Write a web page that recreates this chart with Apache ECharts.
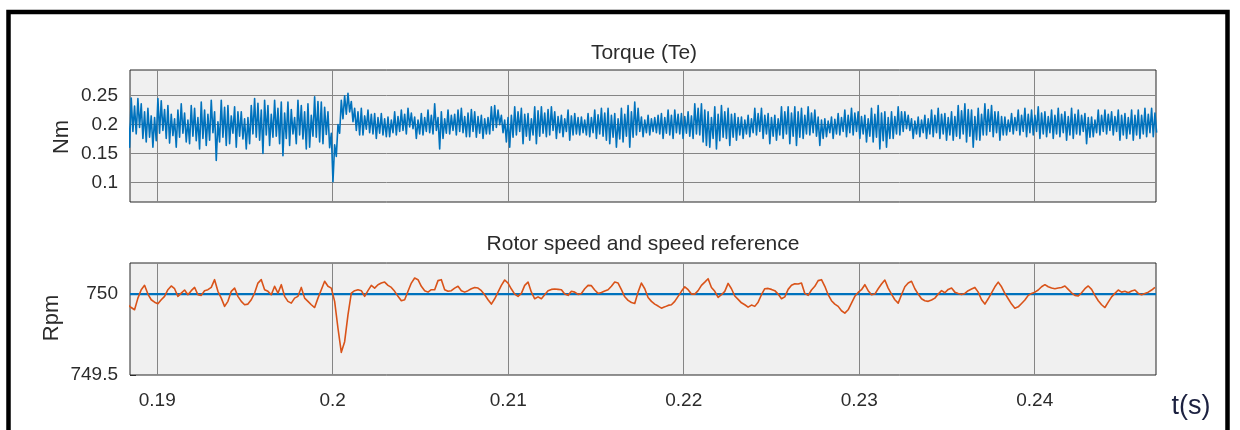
<!DOCTYPE html>
<html><head><meta charset="utf-8">
<script src="https://cdn.jsdelivr.net/npm/echarts@6/dist/echarts.min.js"></script>
<style>html,body{margin:0;padding:0;background:#fff}#c{width:1240px;height:430px}</style>
</head><body><div id="c"></div>
<script>
// ---- sampling of the traces (time of first sample and step) ----
const T0 = 0.18833;
const SPEED_DT = 0.00019;
const TORQUE_DT = 0.000095;
const X_MIN = 0.18845, X_MAX = 0.24691;
const TORQUE_MIN = 0.066, TORQUE_MAX = 0.2945;
const SPEED_MIN = 749.5, SPEED_MAX = 750.192;

// ---- tick labels ----
const xTicks = [0.19, 0.2, 0.21, 0.22, 0.23, 0.24];
const xTickLabels = ['0.19', '0.2', '0.21', '0.22', '0.23', '0.24'];
const torqueTicks = [0.1, 0.15, 0.2, 0.25];
const torqueTickLabels = ['0.1', '0.15', '0.2', '0.25'];
const speedTicks = [749.5, 750];
const speedTickLabels = ['749.5', '750'];

// ---- electromagnetic torque Te (Nm) ----
const torque = [
0.215,0.161,0.246,0.188, 0.232,0.184,0.245,0.195, 0.236,0.176,0.222,0.170, 0.228,0.178,0.215,0.161,
0.212,0.172,0.245,0.185, 0.241,0.190,0.226,0.176, 0.233,0.168,0.218,0.181, 0.210,0.161,0.225,0.178,
0.236,0.185,0.220,0.170, 0.208,0.167,0.233,0.180, 0.228,0.172,0.212,0.158, 0.239,0.176,0.225,0.164,
0.218,0.173,0.242,0.186, 0.222,0.138,0.205,0.170, 0.242,0.178,0.230,0.164, 0.233,0.167,0.215,0.185,
0.231,0.161,0.222,0.180, 0.222,0.175,0.210,0.158, 0.212,0.167,0.233,0.184, 0.245,0.178,0.237,0.173,
0.225,0.150,0.242,0.182, 0.233,0.164,0.218,0.178, 0.242,0.180,0.228,0.167, 0.239,0.146,0.220,0.176,
0.239,0.164,0.226,0.184, 0.212,0.167,0.242,0.182, 0.233,0.175,0.222,0.158, 0.236,0.161,0.216,0.180,
0.248,0.178,0.240,0.170, 0.239,0.167,0.230,0.183, 0.222,0.160,0.185,0.101, 0.165,0.145,0.200,0.185,
0.242,0.210,0.250,0.218, 0.254,0.222,0.240,0.205, 0.228,0.190,0.222,0.182, 0.228,0.182,0.215,0.192,
0.225,0.186,0.218,0.184, 0.219,0.176,0.212,0.185, 0.219,0.182,0.210,0.179, 0.213,0.179,0.208,0.186,
0.222,0.182,0.214,0.188, 0.225,0.190,0.218,0.184, 0.228,0.196,0.220,0.193, 0.213,0.176,0.208,0.184,
0.219,0.182,0.212,0.188, 0.225,0.186,0.216,0.184, 0.236,0.190,0.212,0.158, 0.222,0.176,0.210,0.185,
0.225,0.184,0.216,0.190, 0.218,0.182,0.225,0.188, 0.228,0.186,0.214,0.179, 0.220,0.179,0.226,0.188,
0.222,0.178,0.214,0.185, 0.216,0.176,0.210,0.184, 0.212,0.184,0.231,0.190, 0.233,0.195,0.225,0.200,
0.216,0.186,0.208,0.170, 0.212,0.161,0.216,0.178, 0.231,0.182,0.222,0.188, 0.228,0.167,0.218,0.180,
0.219,0.173,0.210,0.182, 0.231,0.167,0.224,0.180, 0.231,0.185,0.220,0.179, 0.226,0.182,0.231,0.190,
0.222,0.176,0.214,0.186, 0.216,0.179,0.210,0.188, 0.225,0.173,0.215,0.182, 0.219,0.184,0.212,0.182,
0.213,0.186,0.208,0.182, 0.219,0.179,0.212,0.186, 0.225,0.176,0.217,0.184, 0.228,0.180,0.220,0.173,
0.228,0.167,0.216,0.178, 0.219,0.161,0.210,0.175, 0.228,0.170,0.218,0.180, 0.233,0.161,0.222,0.178,
0.239,0.182,0.228,0.188, 0.213,0.179,0.208,0.186, 0.216,0.182,0.210,0.188, 0.212,0.186,0.216,0.184,
0.219,0.176,0.212,0.185, 0.225,0.182,0.216,0.176, 0.225,0.186,0.218,0.184, 0.219,0.176,0.214,0.185,
0.222,0.180,0.215,0.176, 0.236,0.184,0.228,0.182, 0.236,0.170,0.225,0.164, 0.222,0.161,0.212,0.176,
0.231,0.158,0.218,0.172, 0.233,0.178,0.222,0.176, 0.228,0.164,0.218,0.178, 0.219,0.173,0.212,0.182,
0.213,0.176,0.208,0.184, 0.216,0.179,0.210,0.186, 0.228,0.182,0.219,0.188, 0.228,0.176,0.216,0.184,
0.219,0.167,0.212,0.180, 0.216,0.173,0.210,0.182, 0.231,0.176,0.222,0.184, 0.231,0.167,0.220,0.180,
0.231,0.164,0.222,0.178, 0.228,0.176,0.216,0.184, 0.231,0.182,0.220,0.186, 0.225,0.180,
0.213,0.164,0.208,0.176, 0.210,0.179,0.206,0.186, 0.213,0.176,0.209,0.184, 0.219,0.182,0.212,0.188,
0.225,0.179,0.216,0.186, 0.228,0.182,0.220,0.188, 0.222,0.176,0.214,0.184, 0.216,0.170,0.210,0.180,
0.228,0.170,0.218,0.178, 0.233,0.158,0.220,0.172, 0.222,0.161,0.212,0.176, 0.222,0.176,0.214,0.184,
0.231,0.182,0.222,0.188, 0.222,0.193,0.216,0.190, 0.210,0.176,0.206,0.184, 0.213,0.179,0.208,0.186,
0.216,0.176,0.210,0.184, 0.225,0.179,0.216,0.186, 0.228,0.176,0.218,0.184, 0.219,0.173,0.212,0.182,
0.222,0.173,0.214,0.180, 0.233,0.176,0.224,0.184, 0.236,0.170,0.226,0.180, 0.225,0.161,0.214,0.174,
0.228,0.173,0.218,0.182, 0.236,0.182,0.226,0.188, 0.233,0.179,0.222,0.186, 0.222,0.173,0.214,0.182,
0.213,0.182,0.208,0.188, 0.219,0.184,0.212,0.190, 0.225,0.182,0.216,0.188, 0.228,0.179,0.218,0.186,
0.225,0.182,0.216,0.188, 0.231,0.176,0.220,0.184, 0.222,0.179,0.214,0.186, 0.225,0.176,0.216,0.184,
0.228,0.179,0.218,0.186, 0.222,0.173,0.214,0.182, 0.228,0.176,0.218,0.184, 0.225,0.182,0.216,0.188,
0.219,0.167,0.212,0.178, 0.213,0.179,0.208,0.186, 0.225,0.182,0.216,0.188, 0.225,0.184,0.218,0.190,
0.222,0.182,0.214,0.188, 0.225,0.173,0.216,0.182, 0.219,0.176,0.212,0.184, 0.225,0.173,0.216,0.182,
0.225,0.176,0.216,0.184, 0.228,0.179,0.218,0.186, 0.228,0.179,0.220,0.186
];

// ---- rotor speed (rpm) ----
const speed = [
749.934,749.917,749.903,749.975,750.027,750.054,750.000,749.965,749.950,749.940,
749.965,749.986,750.027,750.050,750.033,749.986,750.006,750.025,749.996,750.021,
750.041,749.996,749.992,750.021,750.027,750.041,750.089,750.017,749.975,749.924,
749.955,750.017,750.037,749.986,749.955,749.934,749.938,749.965,750.006,750.068,
750.089,750.027,750.017,749.996,750.048,750.006,750.058,749.986,749.955,749.944,
749.975,749.986,750.041,749.975,749.955,749.934,749.917,749.975,750.027,750.079,
750.048,750.037,749.955,749.789,749.640,749.706,749.872,750.006,750.021,750.027,
750.021,749.986,750.021,750.054,750.037,750.058,750.068,750.074,750.054,750.041,
750.017,749.986,749.959,749.965,750.017,750.068,750.099,750.089,750.048,750.021,
750.012,750.027,750.027,750.083,750.089,750.027,750.017,750.021,750.037,750.048,
750.021,750.012,750.021,750.033,
750.041,750.037,750.021,749.996,749.965,749.938,749.971,750.012,750.054,750.087,
750.068,750.031,750.000,749.986,750.004,750.054,750.074,750.012,749.971,749.983,
749.971,749.996,750.021,750.029,750.031,750.029,750.027,750.000,749.992,750.017,
750.012,749.998,750.004,750.033,750.054,750.052,750.025,750.004,750.010,750.019,
750.027,750.048,750.074,750.068,750.027,749.983,749.961,749.948,749.942,750.012,
750.068,750.033,749.979,749.955,749.938,749.926,749.913,749.921,749.930,749.934,
749.955,749.986,750.017,750.045,750.027,750.000,750.000,750.021,750.054,750.074,
750.095,750.041,750.017,749.979,749.996,750.017,750.066,750.033,749.988,749.967,
749.946,749.934,749.919,749.932,749.924,749.950,749.996,750.033,750.035,750.029,
750.021,750.000,749.971,749.983,750.029,750.054,750.064,750.062,750.068,750.004,
749.992,750.025,750.048,
750.083,750.089,750.048,749.996,749.959,749.938,749.924,749.897,749.882,749.903,
749.944,749.986,750.010,750.027,750.058,750.021,749.996,750.000,750.033,750.062,
750.087,750.037,750.000,749.965,749.944,749.996,750.045,750.068,750.079,750.033,
750.000,749.971,749.959,749.955,749.963,749.975,750.000,750.021,750.008,750.029,
750.037,750.012,750.004,749.998,750.004,750.021,750.031,750.041,750.012,749.965,
749.938,749.971,750.008,750.045,750.074,750.045,750.004,749.971,749.938,749.913,
749.921,749.942,749.963,749.992,750.004,750.012,750.025,750.045,750.058,750.045,
750.037,750.033,750.037,750.041,750.050,750.029,750.008,749.992,749.988,750.008,
750.033,750.050,750.029,749.992,749.959,749.934,749.917,749.950,749.983,750.004,
750.025,750.012,750.017,750.008,750.019,750.025,750.004,749.996,750.004,750.012,
750.025,750.041
];

// ---- speed reference ----
const refTimes = [X_MIN, X_MAX];
const refSpeed = [750, 750];

const torqueData = torque.map((v, j) => [T0 + j * TORQUE_DT, v]);
const speedData = speed.map((v, i) => [T0 + i * SPEED_DT, v]);
const refData = refSpeed.map((v, i) => [refTimes[i], v]);

function fmt(ticks, labels) {
  return function (v) {
    const k = ticks.findIndex(t => Math.abs(t - v) < 1e-9);
    return k >= 0 ? labels[k] : '';
  };
}

const FONT = 'Liberation Sans, Arial, Helvetica, sans-serif';
const TXT = '#2b2b2b';
const GRIDC = '#858585';

function gridLines(xs, ys) {
  return {
    silent: true, z: 1, symbol: ['none', 'none'], animation: false,
    label: { show: false },
    lineStyle: { color: GRIDC, width: 1, type: 'solid' },
    emphasis: { disabled: true },
    data: xs.map(v => ({ xAxis: v })).concat(ys.map(v => ({ yAxis: v })))
  };
}

const chart = echarts.init(document.getElementById('c'), null, { renderer: 'canvas' });
chart.setOption({
  animation: false,
  backgroundColor: '#ffffff',
  textStyle: { fontFamily: FONT },
  grid: [
    { left: 130, top: 70, width: 1026, height: 132, show: true, backgroundColor: '#f0f0f0', borderColor: '#262626', borderWidth: 1 },
    { left: 130, top: 263, width: 1026, height: 112, show: true, backgroundColor: '#f0f0f0', borderColor: '#262626', borderWidth: 1 }
  ],
  xAxis: [
    { type: 'value', gridIndex: 0, min: X_MIN, max: X_MAX,
      axisLine: { show: false }, splitLine: { show: false },
      axisTick: { show: true, inside: true, length: 6, customValues: xTicks, lineStyle: { color: TXT } },
      axisLabel: { show: false } },
    { type: 'value', gridIndex: 1, min: X_MIN, max: X_MAX,
      axisLine: { show: false }, splitLine: { show: false },
      axisTick: { show: true, inside: true, length: 6, customValues: xTicks, lineStyle: { color: TXT } },
      axisLabel: { show: true, customValues: xTicks, formatter: fmt(xTicks, xTickLabels), color: TXT, fontSize: 19, fontFamily: FONT, margin: 16 } }
  ],
  yAxis: [
    { type: 'value', gridIndex: 0, min: TORQUE_MIN, max: TORQUE_MAX,
      axisLine: { show: false }, splitLine: { show: false },
      axisTick: { show: true, inside: true, length: 6, customValues: torqueTicks, lineStyle: { color: TXT } },
      axisLabel: { show: true, customValues: torqueTicks, formatter: fmt(torqueTicks, torqueTickLabels), color: TXT, fontSize: 19, fontFamily: FONT, margin: 12 } },
    { type: 'value', gridIndex: 1, min: SPEED_MIN, max: SPEED_MAX,
      axisLine: { show: false }, splitLine: { show: false },
      axisTick: { show: true, inside: true, length: 6, customValues: speedTicks, lineStyle: { color: TXT } },
      axisLabel: { show: true, customValues: speedTicks, formatter: fmt(speedTicks, speedTickLabels), color: TXT, fontSize: 19, fontFamily: FONT, margin: 12 } }
  ],
  series: [
    { type: 'line', xAxisIndex: 0, yAxisIndex: 0, data: [], z: 1, markLine: gridLines(xTicks, torqueTicks) },
    { type: 'line', xAxisIndex: 1, yAxisIndex: 1, data: [], z: 1, markLine: gridLines(xTicks, [750]) },
    { name: 'Te', type: 'line', xAxisIndex: 0, yAxisIndex: 0, data: torqueData, z: 3,
      showSymbol: false, symbol: 'none', clip: true,
      lineStyle: { color: '#0072BD', width: 1.6, join: 'round' } },
    { name: 'ref', type: 'line', xAxisIndex: 1, yAxisIndex: 1, data: refData, z: 3,
      showSymbol: false, symbol: 'none', clip: true,
      lineStyle: { color: '#0072BD', width: 2.2 } },
    { name: 'speed', type: 'line', xAxisIndex: 1, yAxisIndex: 1, data: speedData, z: 4,
      showSymbol: false, symbol: 'none', clip: true,
      lineStyle: { color: '#D95319', width: 1.6, join: 'round' } }
  ],
  graphic: [
    { type: 'rect', silent: true, z: 0, shape: { x: 8.5, y: 12, width: 1219, height: 440 },
      style: { fill: 'none', stroke: '#000', lineWidth: 4.5 } },
    { type: 'text', x: 644, y: 53, style: { text: 'Torque (Te)', font: '21px ' + FONT, fill: TXT, textAlign: 'center', textVerticalAlign: 'middle' } },
    { type: 'text', x: 643, y: 244, style: { text: 'Rotor speed and speed reference', font: '21px ' + FONT, fill: TXT, textAlign: 'center', textVerticalAlign: 'middle' } },
    { type: 'text', x: 62, y: 137, rotation: Math.PI / 2, style: { text: 'Nm', font: '22px ' + FONT, fill: TXT, textAlign: 'center', textVerticalAlign: 'middle' } },
    { type: 'text', x: 52, y: 318, rotation: Math.PI / 2, style: { text: 'Rpm', font: '22px ' + FONT, fill: TXT, textAlign: 'center', textVerticalAlign: 'middle' } },
    { type: 'text', x: 1191, y: 407, style: { text: 't(s)', font: '27px ' + FONT, fill: '#1c2140', textAlign: 'center', textVerticalAlign: 'middle' } }
  ]
});
</script>
</body></html>
